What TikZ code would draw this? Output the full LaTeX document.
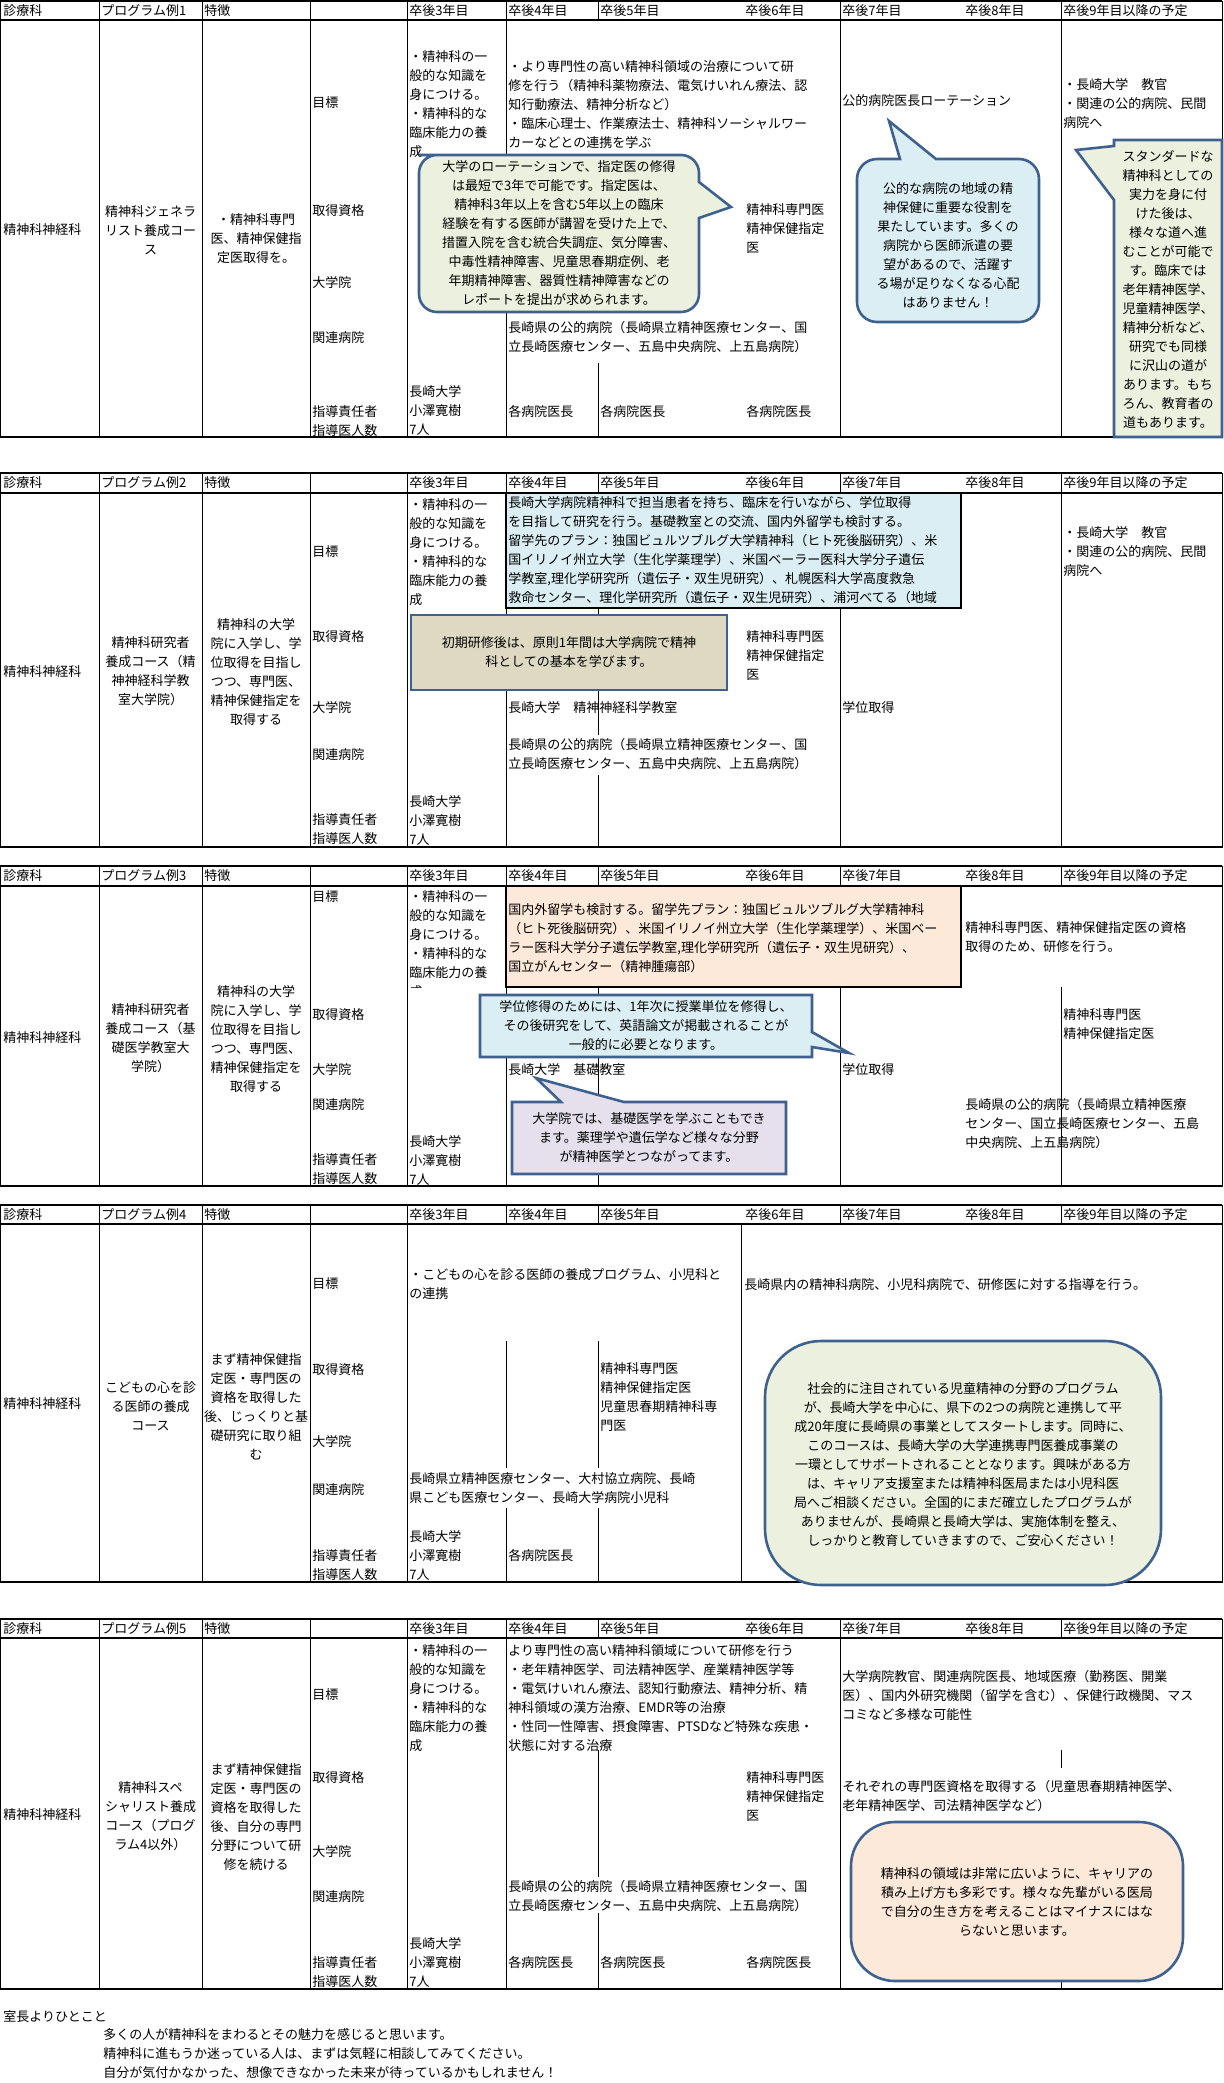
\documentclass[tikz,border=0pt]{standalone}
\usepackage{fontspec}
\setmainfont{Noto Sans CJK JP}
\usepackage{tikz}
\definecolor{boxgreen}{HTML}{EBF1DE}
\definecolor{boxblue}{HTML}{DAEEF3}
\definecolor{boxtan}{HTML}{DDD9C3}
\definecolor{boxpeach}{HTML}{FDE9D9}
\definecolor{boxlav}{HTML}{E5E0EC}
\definecolor{boxedge}{HTML}{3F618F}
\newcommand{\cellfont}{\fontsize{6.5}{9.5}\selectfont}
\tikzset{
  cell/.style={line width=0.5pt},
  heavy/.style={line width=1.1pt},
  txt/.style={anchor=north west, yshift=3.5pt, inner sep=0pt, align=left, font=\cellfont},
  lbl/.style={anchor=west, inner sep=0pt, font=\cellfont},
  ctr/.style={inner sep=0pt, align=center, font=\cellfont},
  callout/.style={draw=boxedge, line width=1.3pt}
}
% frame of one programme table: top, header bottom, bottom, number
\newcommand{\progframe}[4]{
  \draw[cell] (0,#1) rectangle (1222,#3);
  \draw[heavy] (0,#1) -- (1222,#1) (0,#2) -- (1222,#2) (0,#3) -- (1222,#3);
  \foreach \x in {99,202,310,407,506,598,840,1061}
    \draw[cell] (\x,#1) -- (\x,#2);
  \foreach \x in {99,202,310,407}
    \draw[cell] (\x,#2) -- (\x,#3);
  \node[lbl] (hdept#4) at (3,{(#1+#2)/2}) {診療科};
  \node[lbl] (hprog#4) at (101,{(#1+#2)/2}) {プログラム例#4};
  \node[lbl] (hfeat#4) at (204,{(#1+#2)/2}) {特徴};
  \node[lbl] (hy3#4) at (409,{(#1+#2)/2}) {卒後3年目};
  \node[lbl] (hy4#4) at (508,{(#1+#2)/2}) {卒後4年目};
  \node[lbl] (hy5#4) at (600,{(#1+#2)/2}) {卒後5年目};
  \node[lbl] (hy6#4) at (745,{(#1+#2)/2}) {卒後6年目};
  \node[lbl] (hy7#4) at (842,{(#1+#2)/2}) {卒後7年目};
  \node[lbl] (hy8#4) at (965,{(#1+#2)/2}) {卒後8年目};
  \node[lbl] (hy9#4) at (1063,{(#1+#2)/2}) {卒後9年目以降の予定};
}
% row labels: number, goal, qualification, graduate school, hospital, supervisor
\newcommand{\rowlabels}[6]{
  \node[lbl] (goal#1) at (312,#2) {目標};
  \node[lbl] (qual#1) at (312,#3) {取得資格};
  \node[lbl] (grad#1) at (312,#4) {大学院};
  \node[lbl] (hosp#1) at (312,#5) {関連病院};
  \node[txt] (sup#1) at (312,#6) {指導責任者\\指導医人数};
}
\newcommand{\basicaim}{・精神科の一\\般的な知識を\\身につける。\\・精神科的な\\臨床能力の養\\成}
\newcommand{\publichosp}{長崎県の公的病院（長崎県立精神医療センター、国\\立長崎医療センター、五島中央病院、上五島病院）}
\newcommand{\chiefs}{長崎大学\\小澤寛樹\\7人}
\begin{document}
\begin{tikzpicture}[x=0.5pt,y=-0.5pt]
  \useasboundingbox (0,0) rectangle (1224,2083);

  % ---- programme 1
  \progframe{1}{20}{437}{1}
  \foreach \x in {506,840,1061} \draw[cell] (\x,20) -- (\x,437);
  \draw[cell] (598,363) -- (598,437);
  \rowlabels{1}{103}{211}{283}{338}{412}
  \node[lbl] (dept1) at (3,230) {精神科神経科};
  \node[ctr] (prog1) at (150.5,230) {精神科ジェネラ\\リスト養成コー\\ス};
  \node[ctr] (feat1) at (256,239) {・精神科専門\\医、精神保健指\\定医取得を。};
  \node[txt] (aim1) at (409,57) {\basicaim};
  \node[txt] (adv1) at (508,67) {・より専門性の高い精神科領域の治療について研\\修を行う（精神科薬物療法、電気けいれん療法、認\\知行動療法、精神分析など）\\・臨床心理士、作業療法士、精神科ソーシャルワー\\カーなどとの連携を学ぶ};
  \node[txt] (lic1) at (746,210) {精神科専門医\\精神保健指定\\医};
  \node[txt] (pub1) at (508,328) {\publichosp};
  \node[txt] (chief1) at (409,392) {\chiefs};
  \node[lbl] (headA1) at (508,412) {各病院医長};
  \node[lbl] (headB1) at (600,412) {各病院医長};
  \node[lbl] (headC1) at (746,412) {各病院医長};
  \node[lbl] (rot1) at (842,101) {公的病院医長ローテーション};
  \node[txt] (fut1) at (1063,85) {・長崎大学　教官\\・関連の公的病院、民間\\病院へ};
  % callouts
  \draw[callout, fill=boxgreen] (419,155) [rounded corners=9pt] -- (699,155) [sharp corners] -- (699,182) -- (731,207) -- (699,218) [rounded corners=9pt] -- (699,312) -- (419,312) -- (419,155) -- (500,155);
  \node[ctr] (noteA) at (559,233.5) {大学のローテーションで、指定医の修得\\は最短で3年で可能です。指定医は、\\精神科3年以上を含む5年以上の臨床\\経験を有する医師が講習を受けた上で、\\措置入院を含む統合失調症、気分障害、\\中毒性精神障害、児童思春期症例、老\\年期精神障害、器質性精神障害などの\\レポートを提出が求められます。};
  \draw[callout, fill=boxblue] (1039,240) [rounded corners=10pt] -- (1039,322) -- (857,322) -- (857,159) [sharp corners] -- (900,159) -- (889,121) -- (936,159) [rounded corners=10pt] -- (1039,159) -- (1039,240);
  \node[ctr] (noteB) at (948,245) {公的な病院の地域の精\\神保健に重要な役割を\\果たしています。多くの\\病院から医師派遣の要\\望があるので、活躍す\\る場が足りなくなる心配\\はありません！};
  \draw[callout, fill=boxgreen] (1114,140) -- (1222,140) -- (1222,437) -- (1114,437) -- (1114,200) -- (1076,150) -- (1114,146) -- cycle;
  \node[ctr] (noteC) at (1168,289) {スタンダードな\\精神科としての\\実力を身に付\\けた後は、\\様々な道へ進\\むことが可能で\\す。臨床では\\老年精神医学、\\児童精神医学、\\精神分析など、\\研究でも同様\\に沢山の道が\\あります。もち\\ろん、教育者の\\道もあります。};

  % ---- programme 2
  \progframe{473}{493}{847}{2}
  \foreach \x in {506,840,1061} \draw[cell] (\x,493) -- (\x,847);
  \draw[cell] (598,608) -- (598,735) (598,775) -- (598,847);
  \rowlabels{2}{552}{637}{708}{755}{820}
  \node[lbl] (dept2) at (3,672) {精神科神経科};
  \node[ctr] (prog2) at (150.5,671.5) {精神科研究者\\養成コース（精\\神神経科学教\\室大学院）};
  \node[ctr] (feat2) at (256,672.5) {精神科の大学\\院に入学し、学\\位取得を目指し\\つつ、専門医、\\精神保健指定を\\取得する};
  \node[txt] (aim2) at (409,505) {\basicaim};
  \begin{scope}
    \clip (506,493) rectangle (961,608);
    \draw[heavy, fill=boxblue] (506,493) rectangle (961,608);
    \node[txt] (plan2) at (508,503) {長崎大学病院精神科で担当患者を持ち、臨床を行いながら、学位取得\\を目指して研究を行う。基礎教室との交流、国内外留学も検討する。\\留学先のプラン：独国ビュルツブルグ大学精神科（ヒト死後脳研究）、米\\国イリノイ州立大学（生化学薬理学）、米国ベーラー医科大学分子遺伝\\学教室,理化学研究所（遺伝子・双生児研究）、札幌医科大学高度救急\\救命センター、理化学研究所（遺伝子・双生児研究）、浦河べてる（地域\\精神医療）};
  \end{scope}
  \draw[heavy] (506,493) rectangle (961,608);
  \draw[callout, fill=boxtan] (411,615) rectangle (727,690);
  \node[ctr] (noteD) at (569,652.5) {初期研修後は、原則1年間は大学病院で精神\\科としての基本を学びます。};
  \node[txt] (lic2) at (746,637) {精神科専門医\\精神保健指定\\医};
  \node[lbl] (dept2b) at (508,708) {長崎大学　精神神経科学教室};
  \node[lbl] (deg2) at (842,708) {学位取得};
  \node[txt] (pub2) at (508,745) {\publichosp};
  \node[txt] (chief2) at (409,802) {\chiefs};
  \node[txt] (fut2) at (1063,533) {・長崎大学　教官\\・関連の公的病院、民間\\病院へ};

  % ---- programme 3
  \progframe{866}{886}{1186}{3}
  \draw[cell] (506,886) -- (506,1186);
  \foreach \x in {598,840,1061} \draw[cell] (\x,987) -- (\x,1186);
  \rowlabels{3}{897}{1015}{1070}{1105}{1160}
  \node[lbl] (dept3) at (3,1038) {精神科神経科};
  \node[ctr] (prog3) at (150.5,1038.5) {精神科研究者\\養成コース（基\\礎医学教室大\\学院）};
  \node[ctr] (feat3) at (256,1039.5) {精神科の大学\\院に入学し、学\\位取得を目指し\\つつ、専門医、\\精神保健指定を\\取得する};
  \begin{scope}
    \clip (407,886) rectangle (506,987);
    \node[txt] (aim3) at (409,897) {\basicaim};
  \end{scope}
  \draw[heavy, fill=boxpeach] (506,886) rectangle (961,987);
  \node[txt] (plan3) at (508,910) {国内外留学も検討する。留学先プラン：独国ビュルツブルグ大学精神科\\（ヒト死後脳研究）、米国イリノイ州立大学（生化学薬理学）、米国ベー\\ラー医科大学分子遺伝学教室,理化学研究所（遺伝子・双生児研究）、\\国立がんセンター（精神腫瘍部）};
  \node[txt] (train3) at (965,928) {精神科専門医、精神保健指定医の資格\\取得のため、研修を行う。};
  \node[txt] (lic3) at (1063,1015) {精神科専門医\\精神保健指定医};
  \draw[callout, fill=boxblue] (480,995) -- (812,995) -- (812,1032) -- (849,1053) -- (812,1047) -- (812,1057) -- (480,1057) -- cycle;
  \node[ctr] (noteE) at (646,1026) {学位修得のためには、1年次に授業単位を修得し、\\その後研究をして、英語論文が掲載されることが\\一般的に必要となります。};
  \node[lbl] (dept3b) at (508,1070) {長崎大学　基礎教室};
  \node[lbl] (deg3) at (842,1070) {学位取得};
  \node[txt] (pub3) at (965,1105) {長崎県の公的病院（長崎県立精神医療\\センター、国立長崎医療センター、五島\\中央病院、上五島病院）};
  \node[txt] (chief3) at (409,1142) {\chiefs};
  \draw[callout, fill=boxlav] (512,1102) -- (561,1102) -- (536,1078) -- (624,1102) -- (786,1102) -- (786,1174) -- (512,1174) -- cycle;
  \node[ctr] (noteF) at (649,1138) {大学院では、基礎医学を学ぶこともでき\\ます。薬理学や遺伝学など様々な分野\\が精神医学とつながってます。};

  % ---- programme 4
  \progframe{1205}{1224}{1582}{4}
  \draw[cell] (741,1224) -- (741,1582);
  \foreach \x in {506,598} \draw[cell] (\x,1341) -- (\x,1468) (\x,1508) -- (\x,1582);
  \rowlabels{4}{1284}{1370}{1442}{1490}{1556}
  \node[lbl] (dept4) at (3,1404) {精神科神経科};
  \node[ctr] (prog4) at (150.5,1406) {こどもの心を診\\る医師の養成\\コース};
  \node[ctr] (feat4) at (256,1406.5) {まず精神保健指\\定医・専門医の\\資格を取得した\\後、じっくりと基\\礎研究に取り組\\む};
  \node[txt] (aim4) at (409,1275) {・こどもの心を診る医師の養成プログラム、小児科と\\の連携};
  \node[lbl] (teach4) at (744,1285) {長崎県内の精神科病院、小児科病院で、研修医に対する指導を行う。};
  \node[txt] (lic4) at (600,1369) {精神科専門医\\精神保健指定医\\児童思春期精神科専\\門医};
  \node[txt] (pub4) at (409,1479) {長崎県立精神医療センター、大村協立病院、長崎\\県こども医療センター、長崎大学病院小児科};
  \node[txt] (chief4) at (409,1537) {\chiefs};
  \node[lbl] (headA4) at (508,1556) {各病院医長};
  \draw[callout, fill=boxgreen, rounded corners=28pt] (765,1341) rectangle (1161,1585);
  \node[ctr] (noteG) at (963,1465) {社会的に注目されている児童精神の分野のプログラム\\が、長崎大学を中心に、県下の2つの病院と連携して平\\成20年度に長崎県の事業としてスタートします。同時に、\\このコースは、長崎大学の大学連携専門医養成事業の\\一環としてサポートされることとなります。興味がある方\\は、キャリア支援室または精神科医局または小児科医\\局へご相談ください。全国的にまだ確立したプログラムが\\ありませんが、長崎県と長崎大学は、実施体制を整え、\\しっかりと教育していきますので、ご安心ください！};

  % ---- programme 5
  \progframe{1619}{1638}{1989}{5}
  \foreach \x in {506,840} \draw[cell] (\x,1638) -- (\x,1989);
  \draw[cell] (598,1750) -- (598,1877) (598,1913) -- (598,1989);
  \draw[cell] (1061,1750) -- (1061,1768) (1061,1978) -- (1061,1989);
  \rowlabels{5}{1695}{1778}{1852}{1897}{1963}
  \node[lbl] (dept5) at (3,1815) {精神科神経科};
  \node[ctr] (prog5) at (150.5,1816.5) {精神科スペ\\シャリスト養成\\コース（プログ\\ラム4以外）};
  \node[ctr] (feat5) at (256,1817.5) {まず精神保健指\\定医・専門医の\\資格を取得した\\後、自分の専門\\分野について研\\修を続ける};
  \node[txt] (aim5) at (409,1651) {\basicaim};
  \node[txt] (adv5) at (508,1651) {より専門性の高い精神科領域について研修を行う\\・老年精神医学、司法精神医学、産業精神医学等\\・電気けいれん療法、認知行動療法、精神分析、精\\神科領域の漢方治療、EMDR等の治療\\・性同一性障害、摂食障害、PTSDなど特殊な疾患・\\状態に対する治療};
  \node[txt] (lic5) at (746,1778) {精神科専門医\\精神保健指定\\医};
  \node[txt] (pub5) at (508,1887) {\publichosp};
  \node[txt] (chief5) at (409,1944) {\chiefs};
  \node[lbl] (headA5) at (508,1963) {各病院医長};
  \node[lbl] (headB5) at (600,1963) {各病院医長};
  \node[lbl] (headC5) at (746,1963) {各病院医長};
  \node[txt] (car5) at (842,1677) {大学病院教官、関連病院医長、地域医療（勤務医、開業\\医）、国内外研究機関（留学を含む）、保健行政機関、マス\\コミなど多様な可能性};
  \node[txt] (spec5) at (842,1787) {それぞれの専門医資格を取得する（児童思春期精神医学、\\老年精神医学、司法精神医学など）};
  \draw[callout, fill=boxpeach, rounded corners=22pt] (851,1822) rectangle (1183,1981);
  \node[ctr] (noteH) at (1017,1901.5) {精神科の領域は非常に広いように、キャリアの\\積み上げ方も多彩です。様々な先輩がいる医局\\で自分の生き方を考えることはマイナスにはな\\らないと思います。};

  % ---- message
  \node[lbl] (msg) at (3,2017) {室長よりひとこと};
  \node[txt] (msgtext) at (103,2035) {多くの人が精神科をまわるとその魅力を感じると思います。\\精神科に進もうか迷っている人は、まずは気軽に相談してみてください。\\自分が気付かなかった、想像できなかった未来が待っているかもしれません！};
\end{tikzpicture}
\end{document}
